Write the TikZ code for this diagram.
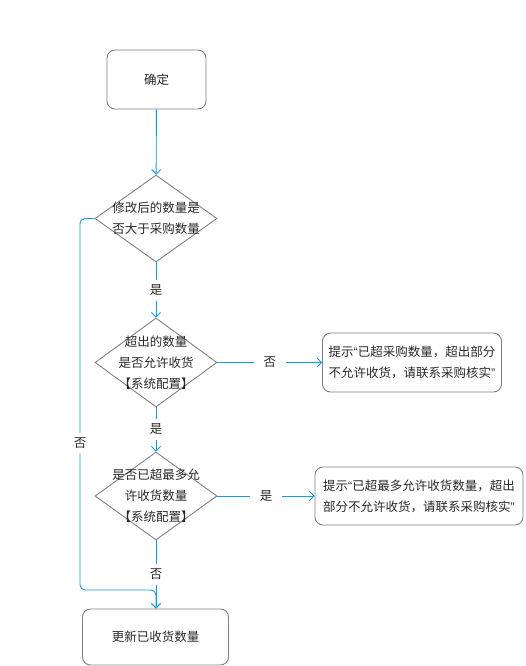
\documentclass[tikz,border=0pt]{standalone}
\usepackage{fontspec}
\setmainfont{Noto Sans CJK SC}
\newfontfamily\latinq{Liberation Sans}
\usetikzlibrary{shapes.geometric,arrows.meta}
\definecolor{flow}{RGB}{16,156,214}
\definecolor{edgegray}{RGB}{128,128,128}
\definecolor{txt}{RGB}{40,40,40}
\newcommand{\qopen}{{\latinq “}}
\newcommand{\qclose}{{\latinq ”}}
\begin{document}
\begin{tikzpicture}[x=1pt,y=-1pt,
  font=\fontsize{12.5}{21}\selectfont, text=txt,
  proc/.style={draw=edgegray, rounded corners=8pt, line width=0.9pt, align=center, inner sep=0pt},
  dec/.style={draw=edgegray, diamond, line width=0.9pt, inner sep=0pt, minimum width=122pt, minimum height=87pt},
  dtext/.style={align=center, inner sep=0pt},
  flowline/.style={draw=flow, line width=0.9pt, -{Straight Barb[length=4.5pt,width=9pt]}},
  plainline/.style={draw=flow, line width=0.9pt},
  lbl/.style={fill=white, inner xsep=10pt, inner ysep=5pt, text=txt}]
\useasboundingbox (0,0) rectangle (525,666);

\node[proc, minimum width=99pt, minimum height=59pt] (ok) at (156.5,79.5) {确定};
\node[dec] (d1) at (156,218.5) {};
\node[dtext] (t1) at (d1) {修改后的数量是\\否大于采购数量};
\node[dec, minimum height=89pt] (d2) at (156,362.5) {};
\node[dtext] (t2) at (d2) {超出的数量\\是否允许收货\\【系统配置】};
\node[proc, minimum width=179pt, minimum height=59pt] (b2) at (412,362.5) {提示\qopen 已超采购数量，超出部分\\不允许收货，请联系采购核实\qclose};
\node[dec, minimum height=88pt] (d3) at (156,496) {};
\node[dtext] (t3) at (d3) {是否已超最多允\\许收货数量\\【系统配置】};
\node[proc, minimum width=208pt, minimum height=58pt] (b3) at (419,496) {提示\qopen 已超最多允许收货数量，超出\\部分不允许收货，请联系采购核实\qclose};
\node[proc, minimum width=146pt, minimum height=56pt] (b4) at (155.5,637) {更新已收货数量};

\coordinate (c1) at (80,218.5);
\coordinate (c2) at (80,590);
\coordinate (c3) at (156,590);

\draw[flowline] (ok) -- (d1);
\draw[flowline] (d1) -- node[lbl]{是} (d2);
\draw[flowline] (d2) -- node[lbl]{否} (b2);
\draw[flowline] (d2) -- node[lbl]{是} (d3);
\draw[flowline] (d3) -- node[lbl]{是} (b3);
\draw[flowline] (d3.south) -- node[lbl]{否} (d3.south |- b4.north);
\draw[flowline, rounded corners=5pt] (d1.west) -- (c1) -- node[lbl, pos=0.605]{否} (c2) -- (c3) -- (c3 |- b4.north);
\end{tikzpicture}
\end{document}
